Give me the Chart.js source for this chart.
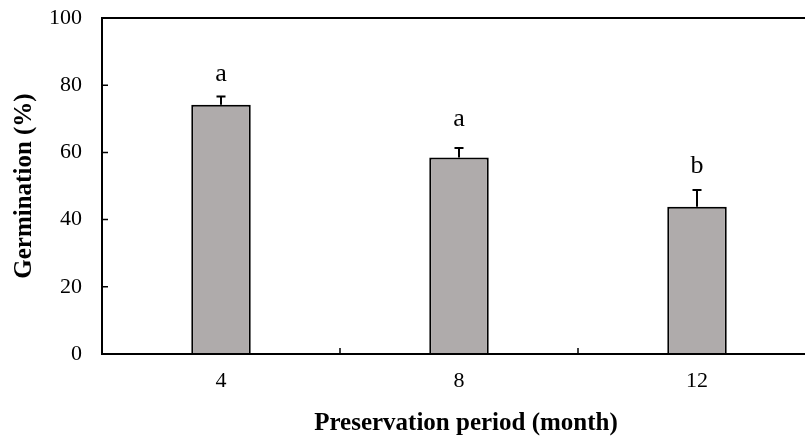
<!DOCTYPE html>
<html>
<head>
<meta charset="utf-8">
<script src="https://cdn.jsdelivr.net/npm/chart.js@4"></script>
<style>
  html, body { margin: 0; padding: 0; background: #fff; overflow: hidden; }
  #wrap { width: 830px; height: 438px; }
</style>
</head>
<body>
<div id="wrap"><canvas id="chart" width="830" height="438"></canvas></div>
<script>
const months = ['4', '8', '12'];
const germination = [74.2, 58.5, 43.8];
const errors = [2.4, 2.8, 5.0];
const letters = ['a', 'a', 'b'];
const letterY = [81.3, 67.9, 54.0];
const yTicks = [0, 20, 40, 60, 80, 100];

const serif = '"Liberation Serif", "Times New Roman", serif';

// axes box, inward ticks, error bars, letters and axis titles
const decor = {
    id: 'decor',
    afterDatasetsDraw(chart) {
        const ctx = chart.ctx;
        const a = chart.chartArea;
        const x = chart.scales.x, y = chart.scales.y;
        ctx.save();
        ctx.strokeStyle = '#000';
        ctx.lineWidth = 2;
        ctx.beginPath();
        ctx.moveTo(a.left, a.top); ctx.lineTo(a.right, a.top); ctx.lineTo(a.right, a.bottom);
        ctx.lineTo(a.left, a.bottom); ctx.closePath();
        ctx.stroke();

        ctx.lineWidth = 1.5;
        ctx.beginPath();
        yTicks.forEach(v => {
            const py = y.getPixelForValue(v);
            ctx.moveTo(a.left, py); ctx.lineTo(a.left + 6, py);
        });
        for (let i = 1; i < months.length; i++) {
            const px = (x.getPixelForValue(i - 1) + x.getPixelForValue(i)) / 2;
            ctx.moveTo(px, a.bottom); ctx.lineTo(px, a.bottom - 6);
        }
        ctx.stroke();

        const meta = chart.getDatasetMeta(0);
        ctx.lineWidth = 2;
        ctx.beginPath();
        meta.data.forEach((bar, i) => {
            const top = y.getPixelForValue(germination[i] + errors[i]);
            ctx.moveTo(bar.x, bar.y); ctx.lineTo(bar.x, top);
            ctx.moveTo(bar.x - 4.5, top); ctx.lineTo(bar.x + 4.5, top);
        });
        ctx.stroke();

        ctx.fillStyle = '#000';
        ctx.textAlign = 'center';
        ctx.textBaseline = 'alphabetic';
        ctx.font = '26px ' + serif;
        meta.data.forEach((bar, i) => {
            ctx.fillText(letters[i], bar.x, y.getPixelForValue(letterY[i]));
        });

        ctx.font = 'bold 25px ' + serif;
        ctx.textBaseline = 'middle';
        ctx.fillText('Preservation period (month)', 466, 424);
        ctx.translate(25, (a.top + a.bottom) / 2);
        ctx.rotate(-Math.PI / 2);
        ctx.fillText('Germination (%)', 0, 0);
        ctx.restore();
    }
};

new Chart(document.getElementById('chart'), {
    type: 'bar',
    data: {
        labels: months,
        datasets: [{
            data: germination,
            backgroundColor: '#afabab',
            borderColor: '#000',
            borderWidth: 2,
            categoryPercentage: 1,
            barPercentage: 0.25
        }]
    },
    options: {
        responsive: false,
        animation: false,
        devicePixelRatio: 1,
        layout: { padding: { left: 0, top: 18, right: 14, bottom: 0 } },
        plugins: { legend: { display: false }, tooltip: { enabled: false } },
        scales: {
            x: {
                grid: { display: false, drawTicks: false },
                border: { display: false },
                ticks: { color: '#000', padding: 14, font: { family: serif, size: 22 } },
                afterFit: s => { s.height = 84; s.paddingLeft = 0; s.paddingRight = 0; }
            },
            y: {
                min: 0, max: 100,
                grid: { display: false, drawTicks: false },
                border: { display: false },
                ticks: { stepSize: 20, color: '#000', padding: 20, font: { family: serif, size: 22 } },
                afterFit: s => { s.width = 102; s.paddingTop = 0; s.paddingBottom = 0; }
            }
        }
    },
    plugins: [decor]
});
</script>
</body>
</html>
